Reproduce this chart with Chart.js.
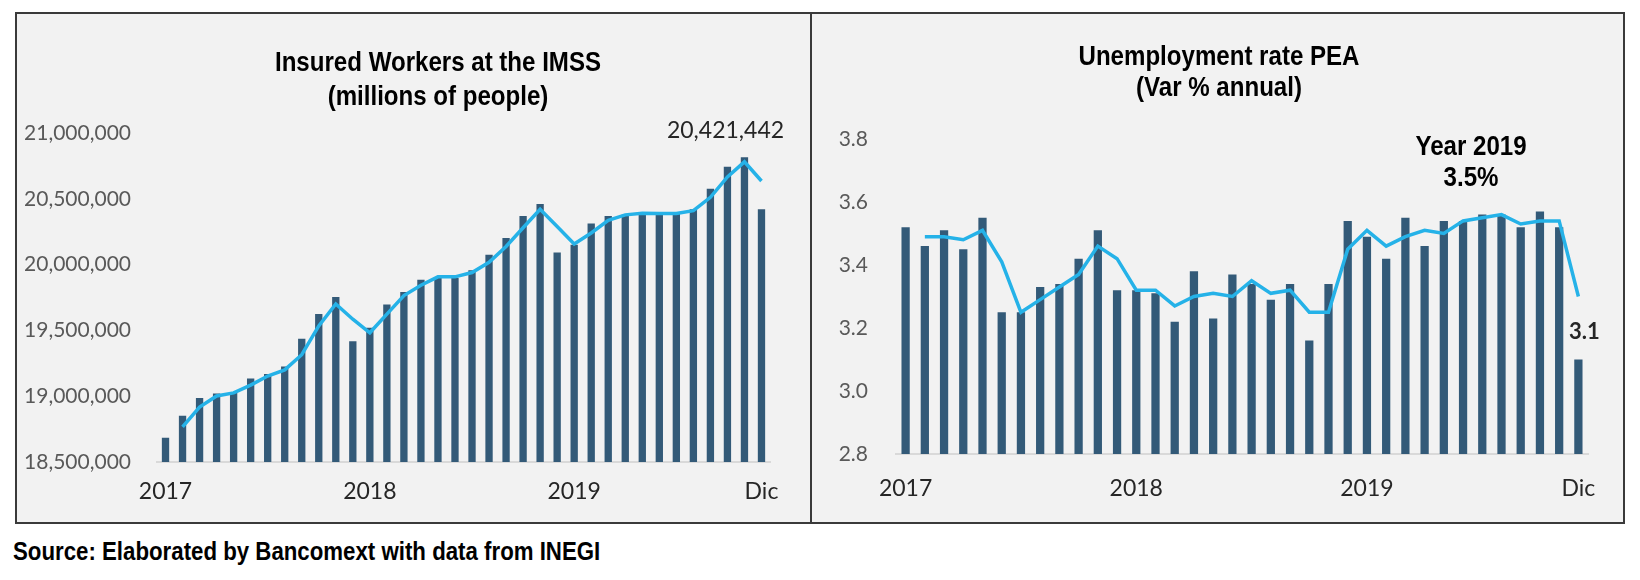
<!DOCTYPE html>
<html>
<head>
<meta charset="utf-8">
<script src="https://cdn.jsdelivr.net/npm/chart.js@4.4.1/dist/chart.umd.min.js"></script>
<style>
    html, body { margin: 0; padding: 0; background: #ffffff; }
    body { width: 1640px; height: 580px; position: relative; overflow: hidden; }
    .frame {
        position: absolute; left: 15px; top: 12px; width: 1606px; height: 508px;
        border: 2px solid #3a3a3a; background: #f2f2f2;
    }
    .divider { position: absolute; left: 810px; top: 12px; width: 2px; height: 512px; background: #3a3a3a; }
    canvas { position: absolute; top: 14px; }
    #leftChart { left: 17px; }
    #rightChart { left: 813px; }
    .source {
        position: absolute; left: 13px; top: 537px;
        font: bold 25px "Liberation Sans", Arial, sans-serif;
        color: #000; white-space: nowrap;
        transform: scaleX(0.89); transform-origin: left top;
    }
</style>
</head>
<body>
<div class="frame"></div>
<div class="divider"></div>
<canvas id="leftChart" width="794" height="507"></canvas>
<canvas id="rightChart" width="808" height="507"></canvas>
<div class="source">Source: Elaborated by Bancomext with data from INEGI</div>

<script>
// ── Data ────────────────────────────────────────────────────────

const months = [
    'Jan 2017', 'Feb 2017', 'Mar 2017', 'Apr 2017', 'May 2017', 'Jun 2017',
    'Jul 2017', 'Aug 2017', 'Sep 2017', 'Oct 2017', 'Nov 2017', 'Dec 2017',
    'Jan 2018', 'Feb 2018', 'Mar 2018', 'Apr 2018', 'May 2018', 'Jun 2018',
    'Jul 2018', 'Aug 2018', 'Sep 2018', 'Oct 2018', 'Nov 2018', 'Dec 2018',
    'Jan 2019', 'Feb 2019', 'Mar 2019', 'Apr 2019', 'May 2019', 'Jun 2019',
    'Jul 2019', 'Aug 2019', 'Sep 2019', 'Oct 2019', 'Nov 2019', 'Dec 2019',
];

// only these month positions carry a tick label
const xTickText = { 0: '2017', 12: '2018', 24: '2019', 35: 'Dic' };

const insuredWorkers = [
    18685000, 18852000, 18986000, 19020000, 19025000, 19135000,
    19169000, 19225000, 19436000, 19624000, 19753000, 19418000,
    19521000, 19696000, 19791000, 19884000, 19899000, 19899000,
    19958000, 20074000, 20203000, 20370000, 20460000, 20092000,
    20150000, 20313000, 20370000, 20378000, 20383000, 20383000,
    20385000, 20421000, 20576000, 20743000, 20815000, 20421442,
];

const insuredTrend = [
    null,     18767000, 18917000, 19002000, 19025000, 19084000,
    19153000, 19200000, 19315000, 19534000, 19701000, 19585000,
    19482000, 19624000, 19765000, 19843000, 19907000, 19907000,
    19940000, 20017000, 20138000, 20280000, 20420000, 20290000,
    20156000, 20240000, 20336000, 20378000, 20390000, 20388000,
    20388000, 20410000, 20511000, 20666000, 20781000, 20635000,
];

const unemploymentRate = [
    3.52, 3.46, 3.51, 3.45, 3.55, 3.25, 3.25, 3.33, 3.34, 3.42, 3.51, 3.32,
    3.32, 3.31, 3.22, 3.38, 3.23, 3.37, 3.34, 3.29, 3.34, 3.16, 3.34, 3.54,
    3.49, 3.42, 3.55, 3.46, 3.54, 3.54, 3.56, 3.56, 3.52, 3.57, 3.52, 3.10,
];

const unemploymentTrend = [
    null, 3.49, 3.49, 3.48, 3.51, 3.41, 3.25, 3.29, 3.33, 3.37, 3.46, 3.42,
    3.32, 3.32, 3.27, 3.30, 3.31, 3.30, 3.35, 3.31, 3.32, 3.25, 3.25, 3.45,
    3.51, 3.46, 3.49, 3.51, 3.50, 3.54, 3.55, 3.56, 3.53, 3.54, 3.54, 3.30,
];

const leftTitle = ['Insured Workers at the IMSS', '(millions of people)'];
const rightTitle = ['Unemployment rate PEA', '(Var % annual)'];

// ── Styling ─────────────────────────────────────────────────────

const BAR_COLOR = '#335a78';
const LINE_COLOR = '#25b2e8';
const HEAD_FONT = 'bold 28px "Liberation Sans", Arial, sans-serif';
const TICK_FONT = 'Lato, "Liberation Sans", sans-serif';
const NARROW = 0.86;   // horizontal squeeze, stands in for Arial Narrow

function fillSqueezed(ctx, text, x, y, sx) {
    ctx.save();
    ctx.translate(x, y);
    ctx.scale(sx, 1);
    ctx.fillText(text, 0, 0);
    ctx.restore();
}

// Two-line heading in a condensed bold face
const headingPlugin = {
    id: 'heading',
    afterDraw(chart, args, opts) {
        const ctx = chart.ctx;
        ctx.save();
        ctx.font = HEAD_FONT;
        ctx.fillStyle = '#000';
        ctx.textAlign = 'center';
        ctx.textBaseline = 'middle';
        opts.lines.forEach((line, i) => {
            fillSqueezed(ctx, line, opts.x, opts.y + i * opts.lineGap, NARROW);
        });
        ctx.restore();
    }
};

// Free text placed next to a category / value position of the chart
const notesPlugin = {
    id: 'notes',
    afterDatasetsDraw(chart, args, opts) {
        const { ctx, scales } = chart;
        ctx.save();
        ctx.textAlign = 'center';
        ctx.textBaseline = 'middle';
        for (const n of opts.items || []) {
            const x = scales.x.getPixelForValue(n.index) + (n.dx || 0);
            const y = scales.y.getPixelForValue(n.value);
            ctx.font = n.font;
            ctx.fillStyle = n.color;
            fillSqueezed(ctx, n.text, x, y, n.squeeze || 1);
        }
        ctx.restore();
    }
};

function buildConfig(o) {
    return {
        type: 'bar',
        data: {
            labels: months,
            datasets: [
                {
                    type: 'line',
                    data: o.trend,
                    borderColor: LINE_COLOR,
                    borderWidth: 3.5,
                    pointRadius: 0,
                    tension: 0,
                    order: 0,
                },
                {
                    type: 'bar',
                    data: o.bars,
                    backgroundColor: BAR_COLOR,
                    categoryPercentage: 1,
                    barPercentage: 0.43,
                    order: 1,
                },
            ],
        },
        options: {
            responsive: false,
            animation: false,
            layout: { padding: o.padding },
            plugins: {
                legend: { display: false },
                tooltip: { enabled: false },
                title: { display: false },
                heading: o.heading,
                notes: { items: o.notes },
            },
            scales: {
                x: {
                    grid: { display: false },
                    border: { display: true, color: '#d9d9d9', width: 2 },
                    ticks: {
                        autoSkip: false,
                        maxRotation: 0,
                        padding: o.xTickPadding,
                        color: '#262626',
                        font: { family: TICK_FONT, size: 23 },
                        callback: (v, i) => xTickText[i] || '',
                    },
                    afterFit: (s) => { s.height = o.xHeight; },
                },
                y: {
                    min: o.yMin,
                    max: o.yMax,
                    grid: { display: false },
                    border: { display: false },
                    ticks: {
                        stepSize: o.yStep,
                        padding: o.yTickPadding,
                        color: '#595959',
                        font: { family: TICK_FONT, size: 21 },
                        callback: o.yFormat,
                    },
                    afterFit: (s) => { s.width = o.yWidth; },
                },
            },
        },
        plugins: [headingPlugin, notesPlugin],
    };
}

new Chart(document.getElementById('leftChart'), buildConfig({
    bars: insuredWorkers,
    trend: insuredTrend,
    heading: { lines: leftTitle, x: 421, y: 49, lineGap: 34 },
    padding: { left: 0, right: 41, top: 119, bottom: 0 },
    yWidth: 140,
    yTickPadding: 18,
    xHeight: 59,
    xTickPadding: 8,
    yMin: 18500000,
    yMax: 21000000,
    yStep: 500000,
    yFormat: (v) => v.toLocaleString('en-US'),
    notes: [
        { text: '20,421,442', index: 35, dx: -36, value: 21020000, font: '23px ' + TICK_FONT, color: '#262626' },
    ],
}));

new Chart(document.getElementById('rightChart'), buildConfig({
    bars: unemploymentRate,
    trend: unemploymentTrend,
    heading: { lines: rightTitle, x: 406, y: 43, lineGap: 31 },
    padding: { left: 0, right: 33, top: 125, bottom: 0 },
    yWidth: 83,
    yTickPadding: 20,
    xHeight: 67,
    xTickPadding: 13,
    yMin: 2.8,
    yMax: 3.8,
    yStep: 0.2,
    yFormat: (v) => v.toFixed(1),
    notes: [
        { text: 'Year 2019', index: 29, dx: 8, value: 3.775, font: HEAD_FONT, color: '#000', squeeze: NARROW },
        { text: '3.5%', index: 29, dx: 8, value: 3.676, font: HEAD_FONT, color: '#000', squeeze: NARROW },
        { text: '3.1', index: 35, dx: 6, value: 3.187, font: 'bold 22px ' + TICK_FONT, color: '#262626' },
    ],
}));
</script>
</body>
</html>
